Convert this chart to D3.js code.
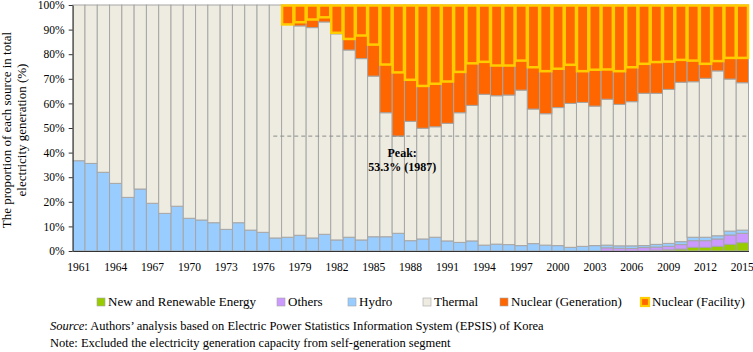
<!DOCTYPE html>
<html><head><meta charset="utf-8">
<script src="https://cdn.jsdelivr.net/npm/d3@7"></script>
<style>
body{margin:0;background:#fff;}
svg text{font-family:"Liberation Serif","Times New Roman",Times,serif;fill:#000;}
</style></head>
<body><svg id="chart" width="753" height="352"></svg>
<script>
const years = d3.range(1961, 2016);
const renewable = [0,0,0,0,0,0,0,0,0,0,0,0,0,0,0,0,0,0,0,0,0,0,0,0,0,0,0,0,0,0,0,0,0,0,0,0,0,0,0,0,0,0,0,0,0,0,0,0.3,0.5,0.8,1.5,1.5,1.9,2.7,3.4];
const others = [0,0,0,0,0,0,0,0,0,0,0,0,0,0,0,0,0,0,0,0,0,0,0,0,0,0,0,0,0,0,0,0,0,0,0,0,0,0,0,0,0,0,0,1.3,1.1,1.0,1.4,1.3,1.4,1.8,2.7,2.7,3.0,3.8,3.8];
const hydro = [36.7,35.6,32.0,27.5,21.8,25.2,19.4,15.3,18.2,13.3,12.6,11.5,8.8,11.5,8.5,7.6,5.3,5.6,6.4,5.3,6.8,4.5,5.6,4.5,5.8,5.8,7.2,4.2,4.9,5.6,4.1,3.5,4.1,2.4,2.8,2.6,2.2,3.0,2.4,2.2,1.5,1.9,2.2,1.1,1.0,1.1,0.8,1.1,1.2,1.2,1.4,1.4,1.3,1.6,1.3];
const thermal = [63.3,64.4,68.0,72.5,78.2,74.8,80.6,84.7,81.8,86.7,87.4,88.5,91.2,88.5,91.5,92.4,94.7,86.6,85.1,85.5,86.3,83.8,76.1,73.7,65.3,50.4,39.5,48.5,45.0,44.9,47.8,52.7,55.1,61.3,60.3,60.8,63.2,54.7,53.4,56.1,58.5,58.5,56.7,59.3,57.5,58.6,61.9,61.4,62.6,64.8,63.2,64.6,67.0,61.8,59.9];
const nuclearGen = [0,0,0,0,0,0,0,0,0,0,0,0,0,0,0,0,0,7.8,8.5,9.2,6.9,11.7,18.3,21.8,28.9,43.8,53.3,47.3,50.1,49.5,48.1,43.8,40.8,36.3,36.9,36.6,34.6,42.3,44.2,41.7,40.0,39.6,41.1,38.3,40.4,39.3,35.9,35.9,34.3,31.4,31.2,29.8,26.8,30.1,31.6];
const nuclearFacility = [0,0,0,0,0,0,0,0,0,0,0,0,0,0,0,0,0,7.7,6.8,5.7,4.8,11.1,13.6,12.2,15.9,24.0,27.2,30.2,32.7,31.8,30.9,27.0,23.5,22.9,24.4,24.4,22.4,25.1,26.7,25.7,24.1,26.7,26.1,26.0,26.7,25.1,23.7,23.0,22.8,22.1,22.4,23.7,22.6,21.3,21.3];
const yTicks = [0,10,20,30,40,50,60,70,80,90,100];
const xTickYears = d3.range(1961, 2016, 3);
const seriesNames = ["New and Renewable Energy","Others","Hydro","Thermal","Nuclear (Generation)"];
const colors = ["#99cc00","#cc99ff","#99ccff","#eeece1","#ff6600"];
const facilityName = "Nuclear (Facility)";
const peakYear = 1987, peakValue = 53.3;

const svg = d3.select("#chart");
const mLeft = 72.7, mRight = 748.5, mTop = 5, mBottom = 251;
const x = d3.scaleBand().domain(years).range([mLeft, mRight]).padding(0);
const y = d3.scaleLinear().domain([0,100]).range([mBottom, mTop]);

const rows = years.map((yr,i)=>({year:yr, s0:renewable[i], s1:others[i], s2:hydro[i], s3:thermal[i], s4:nuclearGen[i], fac:nuclearFacility[i]}));
const keys = ["s0","s1","s2","s3","s4"];
const stacked = d3.stack().keys(keys)(rows);

const g = svg.append("g");
stacked.forEach((layer, k)=>{
  g.append("g").selectAll("rect").data(layer.filter(d=>d[1]-d[0]>0)).join("rect")
    .attr("x", d=>x(d.data.year))
    .attr("width", x.bandwidth())
    .attr("y", d=>y(d[1]))
    .attr("height", d=>y(d[0])-y(d[1]))
    .attr("fill", colors[k])
    .attr("stroke", "#a6a6a6")
    .attr("stroke-width", 1);
});

// facility boxes
g.append("g").selectAll("rect").data(rows.filter(d=>d.fac>0)).join("rect")
  .attr("x", d=>x(d.year)+0.5)
  .attr("width", x.bandwidth()-1)
  .attr("y", y(100)+0.5)
  .attr("height", d=>y(100-d.fac)-y(100))
  .attr("fill", "#ff6600")
  .attr("stroke", "#ffcc00")
  .attr("stroke-width", 2.5);

// peak dashed line
const peakY = y(100-peakValue);
svg.append("line")
  .attr("x1", x(1977)+4).attr("x2", mRight)
  .attr("y1", peakY).attr("y2", peakY)
  .attr("stroke", "#8c8c8c").attr("stroke-width", 1).attr("stroke-dasharray", "4,3");
const px = x(peakYear)+10;
svg.append("text").attr("x", px).attr("y", 157).attr("text-anchor","middle")
  .attr("font-size", 12).attr("font-weight","bold").text("Peak:");
svg.append("text").attr("x", px).attr("y", 171).attr("text-anchor","middle")
  .attr("font-size", 12).attr("font-weight","bold").text(peakValue.toFixed(1)+"% ("+peakYear+")");

// axes
const yAxis = d3.axisLeft(y).tickValues(yTicks).tickFormat(d=>d+"%").tickSize(4).tickSizeOuter(0).tickPadding(4);
const ya = svg.append("g").attr("transform", `translate(${mLeft},0)`).call(yAxis);
ya.attr("font-family", null).selectAll("text").attr("font-size", 11.5);
ya.selectAll("line, path").attr("stroke", "#333");

const xAxis = d3.axisBottom(x).tickValues(xTickYears).tickSize(0).tickSizeOuter(0).tickPadding(12);
const xa = svg.append("g").attr("transform", `translate(0,${mBottom})`).call(xAxis);
xa.attr("font-family", null).selectAll("text").attr("font-size", 11.5);
xa.select("path").attr("stroke", "#333");

// y title
const yt = svg.append("text").attr("transform", "translate(11,130) rotate(-90)")
  .attr("text-anchor","middle").attr("font-size", 13);
yt.append("tspan").attr("x",0).attr("dy",0).text("The proportion of each source in total");
yt.append("tspan").attr("x",0).attr("dy",15).text("electricity generation (%)");

// legend
const legendX = [97, 277, 348, 423, 500];
seriesNames.forEach((n,i)=>{
  svg.append("rect").attr("x", legendX[i]).attr("y", 298).attr("width", 8).attr("height", 8)
    .attr("fill", colors[i]).attr("stroke", "#a6a6a6").attr("stroke-width", 0.6);
  svg.append("text").attr("x", legendX[i]+11).attr("y", 306).attr("font-size", 13).text(n);
});
svg.append("rect").attr("x", 641).attr("y", 298).attr("width", 8).attr("height", 8)
  .attr("fill", "#ff6600").attr("stroke", "#ffcc00").attr("stroke-width", 2.2);
svg.append("text").attr("x", 652).attr("y", 306).attr("font-size", 13).text(facilityName);

// notes
const src = svg.append("text").attr("x", 50).attr("y", 330).attr("font-size", 12.5);
src.append("tspan").attr("font-style","italic").text("Source");
src.append("tspan").text(": Authors\u2019 analysis based on Electric Power Statistics Information System (EPSIS) of Korea");
svg.append("text").attr("x", 50).attr("y", 347).attr("font-size", 12.5)
  .text("Note: Excluded the electricity generation capacity from self-generation segment");
</script></body></html>
